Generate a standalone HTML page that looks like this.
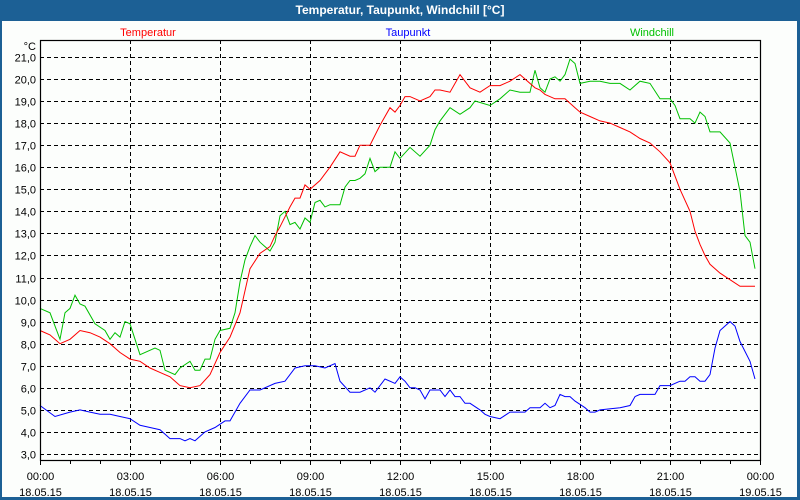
<!DOCTYPE html>
<html><head><meta charset="utf-8"><style>
html,body{margin:0;padding:0;width:800px;height:500px;overflow:hidden;background:#1c6095}
svg{display:block}
text{font-family:"Liberation Sans",sans-serif;font-size:11px}
</style></head><body>
<svg id="chart" width="800" height="500" xmlns="http://www.w3.org/2000/svg">
<rect x="0" y="0" width="800" height="500" fill="#1c6095"/>
<rect x="2" y="21" width="795" height="476" fill="#fcfefc"/>
<text x="400" y="14" text-anchor="middle" fill="#fff" font-weight="bold" style="font-size:12px">Temperatur, Taupunkt, Windchill [°C]</text>
<text x="148" y="36" text-anchor="middle" fill="#ff0000">Temperatur</text>
<text x="408" y="36" text-anchor="middle" fill="#0000ff">Taupunkt</text>
<text x="652" y="36" text-anchor="middle" fill="#00c000">Windchill</text>
<text x="36" y="50" text-anchor="end" fill="#000">°C</text>
<g id="grid"></g><g id="series"></g><g id="axes"></g>
</svg>
<script>
const yTicks=[3,4,5,6,7,8,9,10,11,12,13,14,15,16,17,18,19,20,21];
const xTickTimes=["00:00","03:00","06:00","09:00","12:00","15:00","18:00","21:00","00:00"];
const xTickDates=["18.05.15","18.05.15","18.05.15","18.05.15","18.05.15","18.05.15","18.05.15","18.05.15","19.05.15"];
// minutes since midnight
const tempMin=[0,20,40,60,80,100,120,140,160,180,200,220,240,260,280,300,320,340,360,380,400,420,440,460,470,480,500,510,520,530,540,560,570,580,600,620,630,640,660,680,700,710,720,730,740,760,780,790,800,820,840,860,880,900,920,940,960,990,1000,1010,1030,1050,1060,1070,1080,1100,1120,1140,1160,1180,1200,1220,1240,1260,1280,1300,1310,1320,1330,1340,1360,1380,1400,1420,1430];
const tempVal=[8.6,8.4,8.0,8.2,8.6,8.5,8.3,8.0,7.6,7.3,7.2,6.9,6.7,6.5,6.1,6.0,6.1,6.6,7.6,8.3,9.4,11.4,12.1,12.4,12.9,13.3,14.2,14.6,14.6,15.2,15.0,15.4,15.7,16.0,16.7,16.5,16.5,17.0,17.0,17.9,18.7,18.5,18.8,19.2,19.2,19.0,19.2,19.5,19.5,19.4,20.2,19.6,19.4,19.7,19.7,19.9,20.2,19.6,19.5,19.3,19.1,19.1,18.9,18.7,18.5,18.3,18.1,18.0,17.8,17.6,17.3,17.1,16.7,16.2,15.0,14.0,13.1,12.5,12.0,11.6,11.2,10.9,10.6,10.6,10.6];
const dewMin=[0,30,60,80,100,120,140,160,180,200,220,240,260,270,280,290,310,330,350,360,380,400,420,440,470,490,510,530,540,550,570,590,600,610,620,640,660,680,690,700,710,720,740,760,770,780,800,820,840,850,860,870,880,900,920,940,950,960,980,1000,1020,1030,1040,1060,1080,1090,1100,1120,1140,1160,1180,1190,1200,1220,1240,1260,1270,1280,1290,1300,1310,1320,1330,1340,1350,1360,1380,1400,1420,1430];
const dewVal=[5.2,4.7,4.9,5.0,4.9,4.8,4.8,4.7,4.6,4.3,4.2,4.1,3.7,3.7,3.6,3.7,3.6,4.0,4.2,4.5,5.2,5.9,5.9,6.2,6.9,7.0,7.0,7.1,6.7,6.3,5.8,5.8,6.0,5.9,5.8,6.4,6.2,6.5,6.3,6.0,5.8,5.5,5.9,5.6,5.6,5.3,5.3,5.0,4.8,4.7,4.6,4.9,4.9,4.9,5.1,5.1,5.3,5.2,5.1,5.2,5.7,5.6,5.6,5.4,5.1,4.9,4.9,4.9,5.0,5.1,5.2,5.6,5.7,5.9,6.1,6.1,6.2,6.3,6.3,6.4,6.5,6.5,6.4,6.3,6.3,6.3,6.6,7.8,8.6,9.0,8.8,8.1,7.2,6.4,6.5,6.6,6.5,6.6,6.6].slice(0,0);
const windMin=[0,20,40,50,60,70,80,90,110,130,140,150,160,170,180,200,230,240,250,270,280,300,310,320,330,340,350,360,380,390,400,410,420,430,440,450,460,470,480,490,500,510,520,530,540,550,560,570,580,590,600,610,620,630,640,650,660,670,680,690,700,710,720,740,760,780,790,800,820,840,860,870,900,920,940,960,980,990,1000,1010,1020,1030,1040,1050,1060,1070,1080,1100,1120,1140,1160,1180,1200,1220,1240,1260,1270,1280,1300,1310,1320,1330,1340,1350,1360,1380,1390,1400,1410,1420,1430];
const windVal=[9.6,9.4,8.2,9.4,9.6,10.2,9.8,9.7,8.9,8.6,8.2,8.5,8.3,9.0,8.9,7.5,7.8,7.7,6.8,6.6,6.9,7.2,6.8,6.8,7.3,7.3,8.2,8.6,8.7,9.4,10.8,11.8,12.4,12.9,12.6,12.4,12.2,12.6,13.8,14.0,13.4,13.5,13.2,13.7,13.5,14.4,14.5,14.2,14.3,14.3,14.3,15.1,15.4,15.4,15.5,15.7,16.4,15.8,16.0,16.0,16.0,16.7,16.4,16.9,16.5,17.0,17.7,18.1,18.7,18.4,18.7,19.0,18.8,19.1,19.5,19.4,19.4,20.4,19.6,19.4,20.0,20.1,19.9,20.2,20.9,20.7,19.8,19.9,19.9,19.8,19.8,19.5,19.9,19.8,19.1,19.1,18.8,18.2,18.2,18.0,18.5,18.3,17.6,17.6,17.6,17.1,16.0,14.9,12.9,12.6,11.4,11.3,10.9,11.2,10.9,10.1,10.2,10.4,10.2];
</script>
<script>
const dewMin2=[0,30,60,80,100,120,140,160,180,200,220,240,260,280,290,300,310,330,350,370,380,400,420,440,470,490,510,530,540,550,570,590,600,620,640,660,670,690,710,720,730,740,750,760,770,780,790,800,810,820,830,840,850,860,880,890,900,920,940,950,970,980,1000,1010,1020,1030,1040,1050,1060,1070,1090,1100,1110,1120,1160,1180,1190,1200,1230,1240,1260,1280,1290,1300,1310,1320,1330,1340,1350,1360,1380,1390,1400,1420,1430];
const dewVal2=[5.2,4.7,4.9,5.0,4.9,4.8,4.8,4.7,4.6,4.3,4.2,4.1,3.7,3.7,3.6,3.7,3.6,4.0,4.2,4.5,4.5,5.3,5.9,5.9,6.2,6.3,6.9,7.0,7.0,7.0,6.9,7.1,6.3,5.8,5.8,6.0,5.8,6.4,6.2,6.5,6.3,6.0,6.0,5.9,5.5,5.9,5.9,5.9,5.6,5.9,5.6,5.6,5.3,5.3,5.0,4.8,4.7,4.6,4.9,4.9,4.9,5.1,5.1,5.3,5.1,5.2,5.7,5.6,5.6,5.4,5.1,4.9,4.9,5.0,5.1,5.2,5.6,5.7,5.7,6.1,6.1,6.3,6.3,6.5,6.5,6.3,6.3,6.6,7.8,8.6,9.0,8.8,8.1,7.2,6.4,6.6,6.5,6.6,6.6];
</script>
<script>
const NS='http://www.w3.org/2000/svg';
const X0=40,X1=760,Y0=40,Y1=460;
function xs(m){return X0+(m/1440)*(X1-X0);}
function ys(v){return 454-(v-3)*22.06;}
function mk(tag,attrs,parent){const e=document.createElementNS(NS,tag);for(const k in attrs)e.setAttribute(k,attrs[k]);parent.appendChild(e);return e;}
const grid=document.getElementById('grid'),axes=document.getElementById('axes'),series=document.getElementById('series');
yTicks.forEach(v=>{
  const y=Math.round(ys(v))+0.5;
  const l=mk('line',{x1:X0,x2:X1,y1:y,y2:y,stroke:'#000','stroke-dasharray':'4,3','stroke-width':1},grid);
  
  
  const t=mk('text',{x:36,y:y+4,'text-anchor':'end',fill:'#000'},axes);
  t.textContent=v.toFixed(1).replace('.',',');
  
  
});
for(let h=0;h<=24;h++){
  const x=Math.round(xs(h*60))+0.5;
  const tk=mk('line',{x1:x,x2:x,y1:Y1,y2:Y1+(h%3===0?5:4),stroke:'#000'},axes);
  
  
}
xTickTimes.forEach((s,i)=>{
  const x=Math.round(xs(i*180))+0.5;
  if(i>0&&i<8){
    const l=mk('line',{x1:x,x2:x,y1:Y0,y2:Y1,stroke:'#000','stroke-dasharray':'4,3'},grid);
    
    
  }
  const t=mk('text',{x:x,y:480,'text-anchor':'middle',fill:'#000'},axes);
  t.textContent=s;
  
  
  const d=mk('text',{x:x,y:496,'text-anchor':'middle',fill:'#000'},axes);
  d.textContent=xTickDates[i];
  
  
});
const border=mk('rect',{x:X0+0.5,y:Y0+0.5,width:X1-X0,height:Y1-Y0,fill:'none',stroke:'#000','stroke-width':1.2},axes);


function line(ms,vs,color,name){
  const d=ms.map((m,i)=>(i?'L':'M')+xs(m).toFixed(1)+' '+ys(vs[i]).toFixed(1)).join(' ');
  const p=mk('path',{d:d,fill:'none',stroke:color,'stroke-width':1},series);
  
  
}
line(dewMin2,dewVal2,'#0000ff','taupunkt-line');
line(windMin,windVal,'#00c000','windchill-line');
line(tempMin,tempVal,'#ff0000','temperatur-line');
</script>
</body></html>
